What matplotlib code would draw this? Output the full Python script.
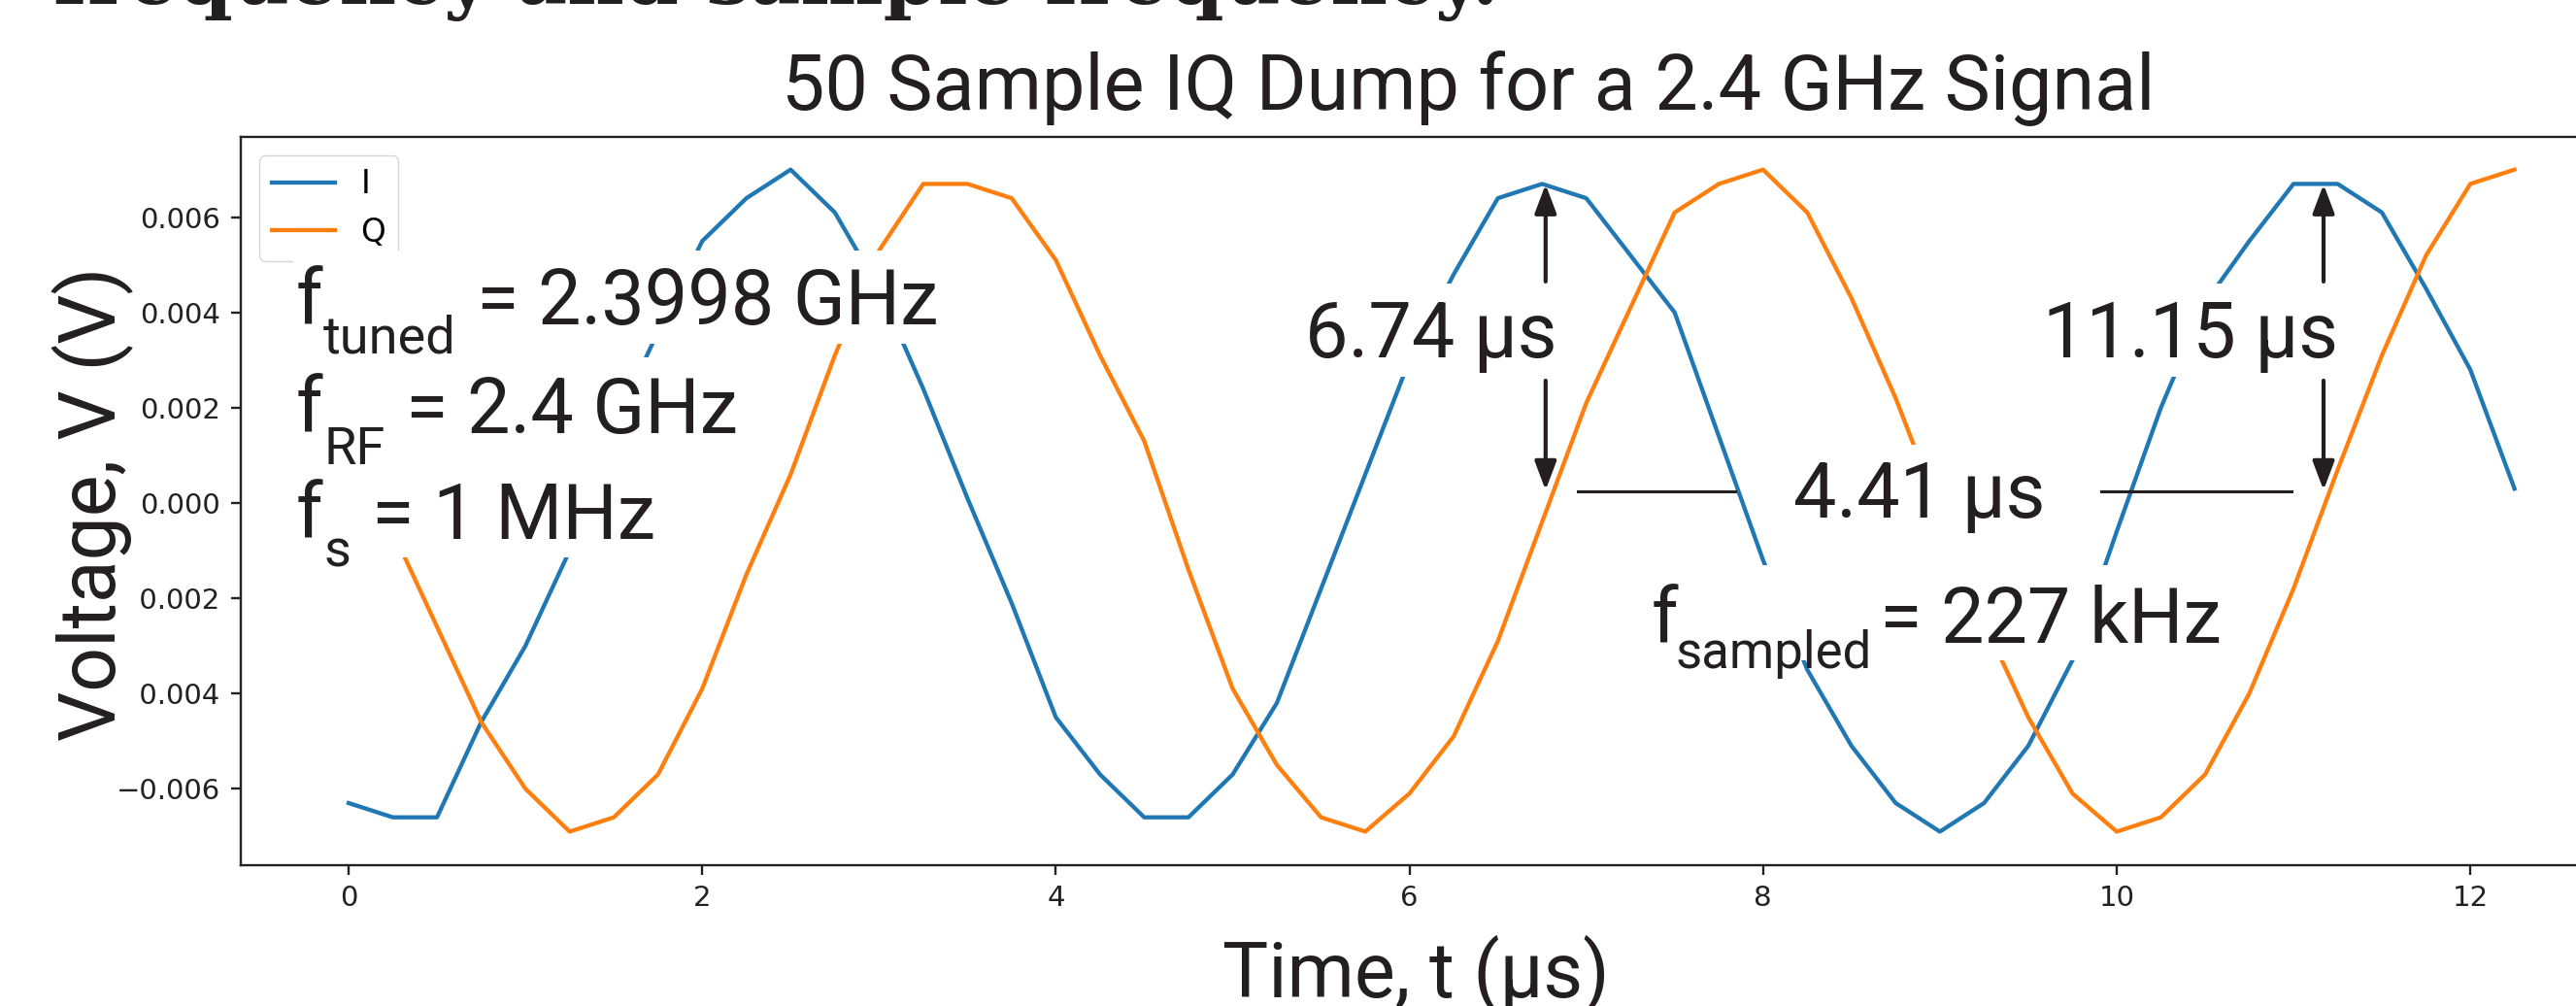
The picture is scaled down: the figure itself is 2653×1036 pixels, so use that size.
import numpy as np
import matplotlib
matplotlib.use("Agg")
import matplotlib.pyplot as plt
from matplotlib.patches import Rectangle

# ========== 数据 ==========
t_us = np.arange(50) * 0.25   # 50 samples

I_vals = [-0.0063, -0.0066, -0.0066, -0.0046, -0.0030, -0.0010, 0.0016, 0.0036,
          0.0055, 0.0064, 0.0070, 0.0061, 0.0045, 0.0024, 0.0001, -0.0021,
          -0.0045, -0.0057, -0.0066, -0.0066, -0.0057, -0.0042, -0.0018, 0.0006,
          0.0030, 0.0048, 0.0064, 0.0067, 0.0064, 0.0052, 0.0040, 0.0014,
          -0.0012, -0.0035, -0.0051, -0.0063, -0.0069, -0.0063, -0.0051, -0.0033,
          -0.0006, 0.0020, 0.0042, 0.0055, 0.0067, 0.0067, 0.0061, 0.0045,
          0.0028, 0.0003]

Q_vals = [0.0019, -0.0006, -0.0026, -0.0046, -0.0060, -0.0069, -0.0066, -0.0057,
          -0.0039, -0.0015, 0.0006, 0.0031, 0.0053, 0.0067, 0.0067, 0.0064,
          0.0051, 0.0031, 0.0013, -0.0014, -0.0039, -0.0055, -0.0066, -0.0069,
          -0.0061, -0.0049, -0.0029, -0.0004, 0.0021, 0.0041, 0.0061, 0.0067,
          0.0070, 0.0061, 0.0043, 0.0022, -0.0002, -0.0025, -0.0045, -0.0061,
          -0.0069, -0.0066, -0.0057, -0.0040, -0.0018, 0.0007, 0.0031, 0.0052,
          0.0067, 0.0070]

# markers of the measured times (µs) and voltage spans of the arrows
t_mark1 = 6.77
t_mark2 = 11.17
arrow_top = (0.00465, 0.00669)
arrow_bot = (0.00257, 0.00027)
span_y = 0.00024
span_left = (6.95, 7.84)
span_right = (9.91, 10.99)

W, H = 2653, 1036
FONT = "Roboto"
INK = "#231f20"

fig = plt.figure(figsize=(W / 100, H / 100), dpi=100)

# axes box: left spine at x=247 px, runs off the right edge
ax = fig.add_axes([247.5 / W, 1 - 890.5 / H, 2453.7 / W, 749.9 / H])
ax.plot(t_us, I_vals, color="#1f77b4", lw=3.1, label="I")
ax.plot(t_us, Q_vals, color="#ff7f0e", lw=3.1, label="Q")
ax.set_xlim(-0.6125, 12.8625)
ax.set_ylim(-0.007595, 0.007695)
ax.set_xticks([0, 2, 4, 6, 8, 10, 12])
ax.set_yticks([-0.006, -0.004, -0.002, 0.0, 0.002, 0.004, 0.006])
ax.tick_params(labelsize=21, length=7.4, width=1.7, pad=7.4, colors="#222222")
for s in ax.spines.values():
    s.set_linewidth(1.7)
    s.set_color("#222222")
ax.legend(loc="upper left", fontsize=23.5, borderaxespad=0.6)


def px(x, y):
    return x / W, 1 - y / H


def white_box(x0, y0, x1, y1):
    fig.add_artist(Rectangle(px(x0, y1), (x1 - x0) / W, (y1 - y0) / H,
                             transform=fig.transFigure, facecolor="white",
                             edgecolor="none", zorder=10))


def put(x, y, s, size=57, **kw):
    fig.text(*px(x, y), s, fontsize=size, family=FONT, color=INK,
             va="baseline", zorder=11, **kw)


# ========== 顶部文字 ==========
fig.text(*px(55, 4), "frequency and sample frequency.", fontsize=58,
         family="DejaVu Serif", weight="bold", color=INK, va="baseline")
put(805, 113, "50 Sample IQ Dump for a 2.4 GHz Signal", size=57)

# ========== 坐标轴标签 ==========
white_box(40, 268, 142, 770)
fig.text(*px(96, 519), "Voltage, V (V)", fontsize=58, family=FONT,
         color=INK, rotation=90, ha="center", va="center", zorder=11)
put(1458, 1027, "Time, t (µs)", size=57, ha="center")

# ========== 频率说明 ==========
white_box(302, 258, 975, 354)
put(305, 334, "f")
put(333, 363, "tuned", size=39)
put(491, 334, "= 2.3998 GHz")

white_box(302, 368, 770, 476)
put(305, 446, "f")
put(333, 478, "RF", size=39)
put(418, 446, "= 2.4 GHz")

white_box(302, 476, 680, 574)
put(305, 555, "f")
put(333, 584, "s", size=39)
put(383, 555, "= 1 MHz")

# ========== 时间标注 ==========
white_box(1330, 292, 1612, 388)
put(1344, 368, "6.74 µs")
white_box(2090, 292, 2410, 388)
put(2104, 368, "11.15 µs")
white_box(1830, 458, 2120, 582)
put(1847, 533, "4.41 µs")

white_box(1690, 582, 2295, 680)
put(1701, 662, "f")
put(1726, 688, "sampled", size=38)
put(1936, 662, "= 227 kHz")

head = dict(arrowstyle="-|>,head_length=0.45,head_width=0.17", color=INK,
            lw=3, mutation_scale=40, shrinkA=0, shrinkB=0)
for tm in (t_mark1, t_mark2):
    ax.annotate("", xy=(tm, arrow_top[1]), xytext=(tm, arrow_top[0]),
                arrowprops=head, zorder=12)
    ax.annotate("", xy=(tm, arrow_bot[1]), xytext=(tm, arrow_bot[0]),
                arrowprops=head, zorder=12)
ax.plot(span_left, [span_y, span_y], color=INK, lw=2.2, zorder=12)
ax.plot(span_right, [span_y, span_y], color=INK, lw=2.2, zorder=12)

fig.savefig("out.png", dpi=100)
